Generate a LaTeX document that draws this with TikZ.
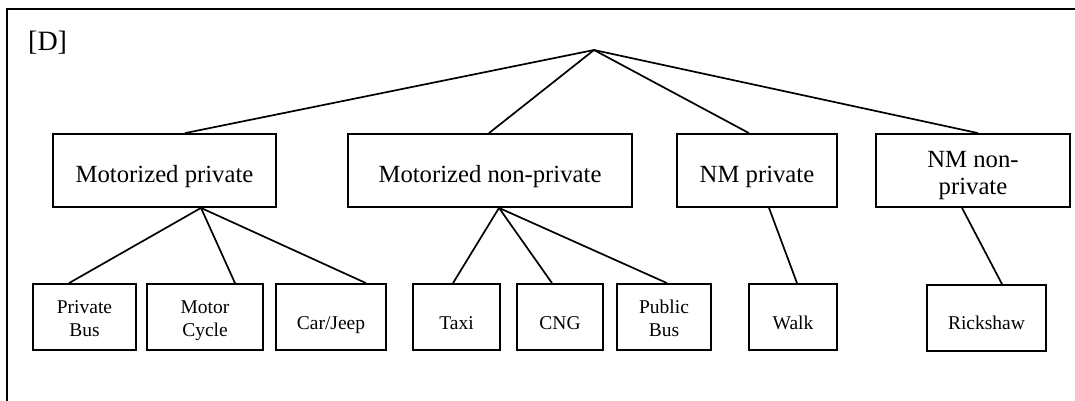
\documentclass[tikz,border=0pt]{standalone}
\usepackage{fontspec}
\setmainfont{Liberation Serif}
\begin{document}
\begin{tikzpicture}[x=1pt,y=-1pt,
  rule/.style={line width=1.8pt,line cap=rect},
  catbox/.style={draw,line width=1.8pt,minimum height=73pt,inner sep=0pt},
  modebox/.style={draw,line width=1.8pt,minimum height=66pt,inner sep=0pt},
  cattext/.style={anchor=base,align=center,inner sep=0pt,
    font=\fontsize{24.7}{27}\selectfont},
  modetext/.style={anchor=base,align=center,inner sep=0pt,
    font=\fontsize{19.5}{23}\selectfont},
  link/.style={line width=1.7pt}]
\useasboundingbox (0,0) rectangle (1075,400);
% outer frame, open to the right and bottom
\coordinate (fbl) at (7,402);
\coordinate (ftl) at (7,9);
\coordinate (ftr) at (1077,9);
\draw[rule] (fbl) -- (ftl) -- (ftr);
\node[anchor=base west,inner sep=0pt,font=\fontsize{28}{30}\selectfont] (tag) at (28,50) {[D]};

% root of the tree
\coordinate (root) at (594,50);

% travel mode categories
\node[catbox,minimum width=223pt] (mp) at (164.5,170.5) {};
\node[catbox,minimum width=284pt] (mn) at (490,170.5) {};
\node[catbox,minimum width=160pt] (np) at (757,170.5) {};
\node[catbox,minimum width=194pt] (nn) at (973,170.5) {};
\node[cattext] (mpt) at (164.5,182) {Motorized private};
\node[cattext] (mnt) at (490,182) {Motorized non-private};
\node[cattext] (npt) at (757,182) {NM private};
% the base anchor of a two-line node sits on its last line
\node[cattext] (nnt) at (973,194) {NM non-\\private};

% individual modes
\node[modebox,minimum width=103pt] (pb) at (84.5,317) {};
\node[modebox,minimum width=116pt] (mc) at (205,317) {};
\node[modebox,minimum width=110pt] (cj) at (331,317) {};
\node[modebox,minimum width=87pt] (tx) at (456.5,317) {};
\node[modebox,minimum width=86pt] (cng) at (560,317) {};
\node[modebox,minimum width=94pt] (pub) at (664,317) {};
\node[modebox,minimum width=88pt] (wk) at (793,317) {};
\node[modebox,minimum width=119pt] (rk) at (986.5,318) {};
\node[modetext] (pbt) at (84.5,336) {Private\\Bus};
\node[modetext] (mct) at (205,336) {Motor\\Cycle};
\node[modetext] (cjt) at (331,329) {Car/Jeep};
\node[modetext] (txt) at (456.5,329) {Taxi};
\node[modetext] (cngt) at (560,329) {CNG};
\node[modetext] (pubt) at (664,336) {Public\\Bus};
\node[modetext] (wkt) at (793,329) {Walk};
\node[modetext] (rkt) at (986.5,329) {Rickshaw};

% root to categories
\draw[link] (root) -- (185,0 |- mp.north);
\draw[link] (root) -- (489,0 |- mn.north);
\draw[link] (root) -- (749,0 |- np.north);
\draw[link] (root) -- (978,0 |- nn.north);

% categories to modes
\draw[link] (201,0 |- mp.south) -- (69,0 |- pb.north);
\draw[link] (201,0 |- mp.south) -- (235,0 |- mc.north);
\draw[link] (201,0 |- mp.south) -- (366,0 |- cj.north);
\draw[link] (499,0 |- mn.south) -- (453,0 |- tx.north);
\draw[link] (499,0 |- mn.south) -- (552,0 |- cng.north);
\draw[link] (499,0 |- mn.south) -- (667,0 |- pub.north);
\draw[link] (769,0 |- np.south) -- (797,0 |- wk.north);
\draw[link] (962,0 |- nn.south) -- (1002,0 |- rk.north);
\end{tikzpicture}
\end{document}
